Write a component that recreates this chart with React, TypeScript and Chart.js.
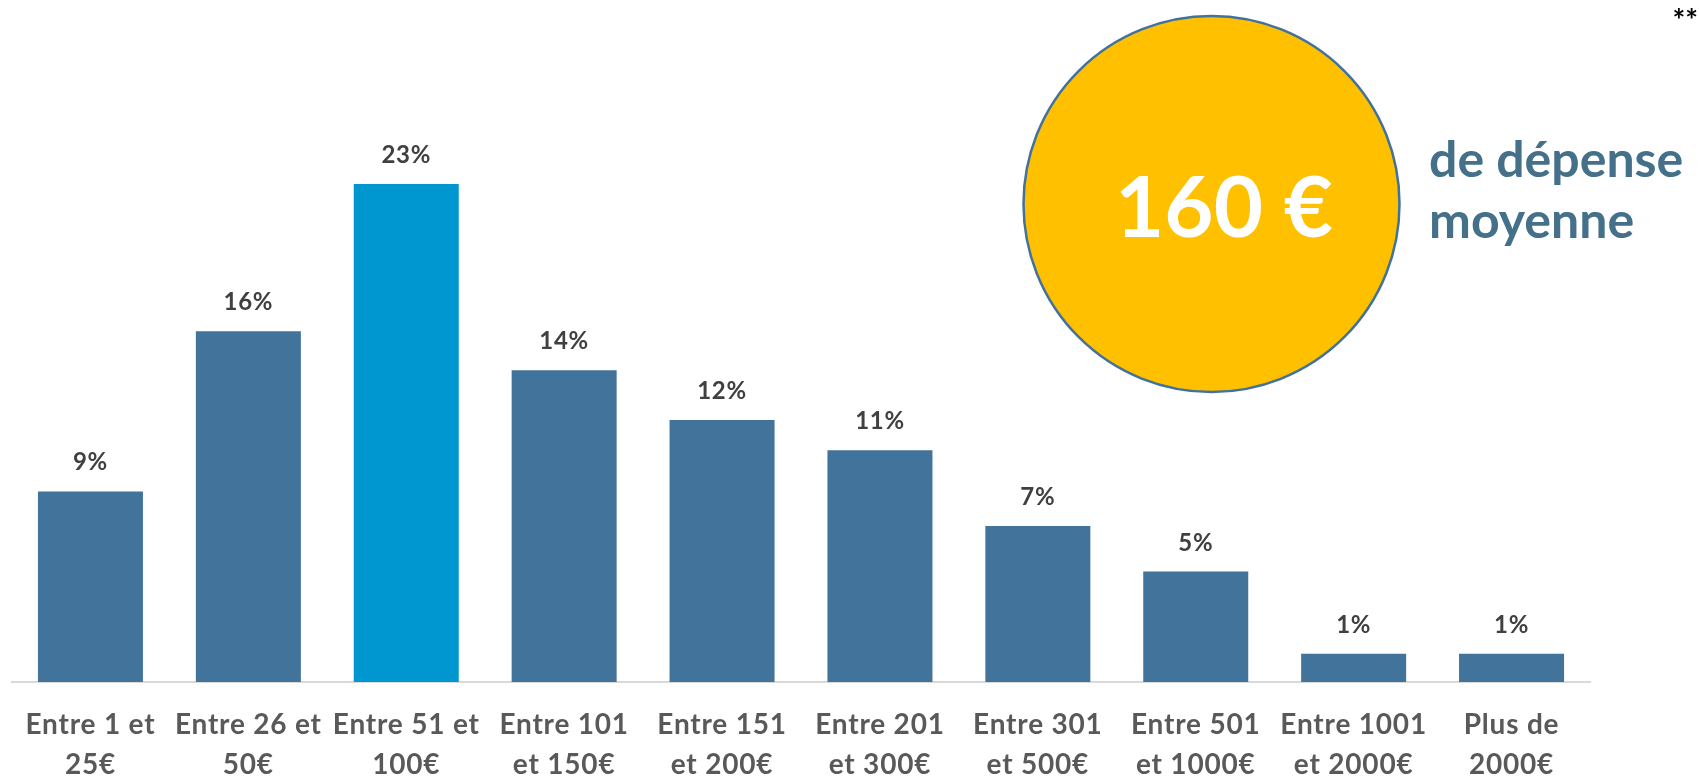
import React, { useEffect, useRef } from "react";
import { Chart, registerables } from "chart.js";

Chart.register(...registerables);

// ---- Data ----
const categories: string[][] = [
  ["Entre 1 et", "25€"],
  ["Entre 26 et", "50€"],
  ["Entre 51 et", "100€"],
  ["Entre 101", "et 150€"],
  ["Entre 151", "et 200€"],
  ["Entre 201", "et 300€"],
  ["Entre 301", "et 500€"],
  ["Entre 501", "et 1000€"],
  ["Entre 1001", "et 2000€"],
  ["Plus de", "2000€"],
];
const values: number[] = [8.8, 16.2, 23.0, 14.4, 12.1, 10.7, 7.2, 5.1, 1.3, 1.3];
const valueLabels: string[] = ["9%", "16%", "23%", "14%", "12%", "11%", "7%", "5%", "1%", "1%"];
const highlightIndex = 2;
const averageSpend = "160 €";
const averageCaption: string[] = ["de dépense", "moyenne"];
const footnoteMark = "**";

// ---- Styles ----
const BAR_COLOR = "#41739B";
const HIGHLIGHT_COLOR = "#0096D0";
const FONT = "Lato, 'Open Sans', sans-serif";

const spacingPlugin = {
  id: "spacingPlugin",
  beforeDraw(chart: any) {
    (chart.ctx as any).letterSpacing = "0.8px";
  },
};

const valueLabelPlugin = {
  id: "valueLabelPlugin",
  afterDatasetsDraw(chart: any) {
    const ctx = chart.ctx;
    const meta = chart.getDatasetMeta(0);
    ctx.save();
    (ctx as any).letterSpacing = "0.7px";
    ctx.font = `bold 24px ${FONT}`;
    ctx.fillStyle = "#404040";
    ctx.textAlign = "center";
    ctx.textBaseline = "alphabetic";
    meta.data.forEach((bar: any, i: number) => {
      ctx.fillText(valueLabels[i], bar.x, bar.y - 21);
    });
    ctx.restore();
  },
};

const annotationPlugin = {
  id: "annotationPlugin",
  afterDraw(chart: any) {
    const ctx = chart.ctx;
    ctx.save();
    (ctx as any).letterSpacing = "0px";
    // circle
    ctx.beginPath();
    ctx.arc(1211.5, 204, 188, 0, Math.PI * 2);
    ctx.fillStyle = "#FFC000";
    ctx.fill();
    ctx.lineWidth = 2.5;
    ctx.strokeStyle = "#41719C";
    ctx.stroke();
    // big value
    ctx.fillStyle = "#FFFFFF";
    ctx.font = `bold 85px ${FONT}`;
    ctx.textAlign = "center";
    ctx.textBaseline = "alphabetic";
    ctx.fillText(averageSpend, 1224, 237);
    // caption
    ctx.fillStyle = "#44708A";
    ctx.font = `bold 50px ${FONT}`;
    ctx.textAlign = "left";
    ctx.fillText(averageCaption[0], 1429, 177);
    ctx.fillText(averageCaption[1], 1429, 238);
    // footnote mark
    ctx.fillStyle = "#000000";
    ctx.font = `bold 30px ${FONT}`;
    ctx.textAlign = "right";
    ctx.fillText(footnoteMark, 1698, 31);
    ctx.restore();
    (ctx as any).letterSpacing = "0px";
  },
};

export default function App() {
  const canvasRef = useRef<HTMLCanvasElement | null>(null);

  useEffect(() => {
    const canvas = canvasRef.current;
    if (!canvas) return;
    const chart = new Chart(canvas, {
      type: "bar",
      data: {
        labels: categories,
        datasets: [
          {
            data: values,
            backgroundColor: values.map((_, i) => (i === highlightIndex ? HIGHLIGHT_COLOR : BAR_COLOR)),
            barPercentage: 0.665,
            categoryPercentage: 1.0,
            borderWidth: 0,
          },
        ],
      },
      options: {
        animation: false,
        responsive: false,
        devicePixelRatio: 1,
        layout: { padding: { top: 32.5, left: 11.5, right: 108.5, bottom: 0 } },
        plugins: {
          legend: { display: false },
          tooltip: { enabled: false },
        },
        scales: {
          x: {
            grid: { display: false, drawTicks: false },
            border: { display: true, color: "#D9D9D9", width: 2 },
            ticks: {
              autoSkip: false,
              maxRotation: 0,
              minRotation: 0,
              padding: 23,
              color: "#595959",
              font: { family: FONT, weight: "bold", size: 28, lineHeight: 1.43 },
            },
            afterFit: (scale: any) => {
              scale.height = 94;
            },
          },
          y: {
            display: false,
            min: 0,
            max: 30,
          },
        },
      },
      plugins: [spacingPlugin, valueLabelPlugin, annotationPlugin],
    });
    return () => chart.destroy();
  }, []);

  return (
    <div style={{ position: "absolute", left: 0, top: 0, width: 1699, height: 776, background: "#FFFFFF" }}>
      <canvas ref={canvasRef} width={1699} height={776} style={{ display: "block" }} />
    </div>
  );
}
